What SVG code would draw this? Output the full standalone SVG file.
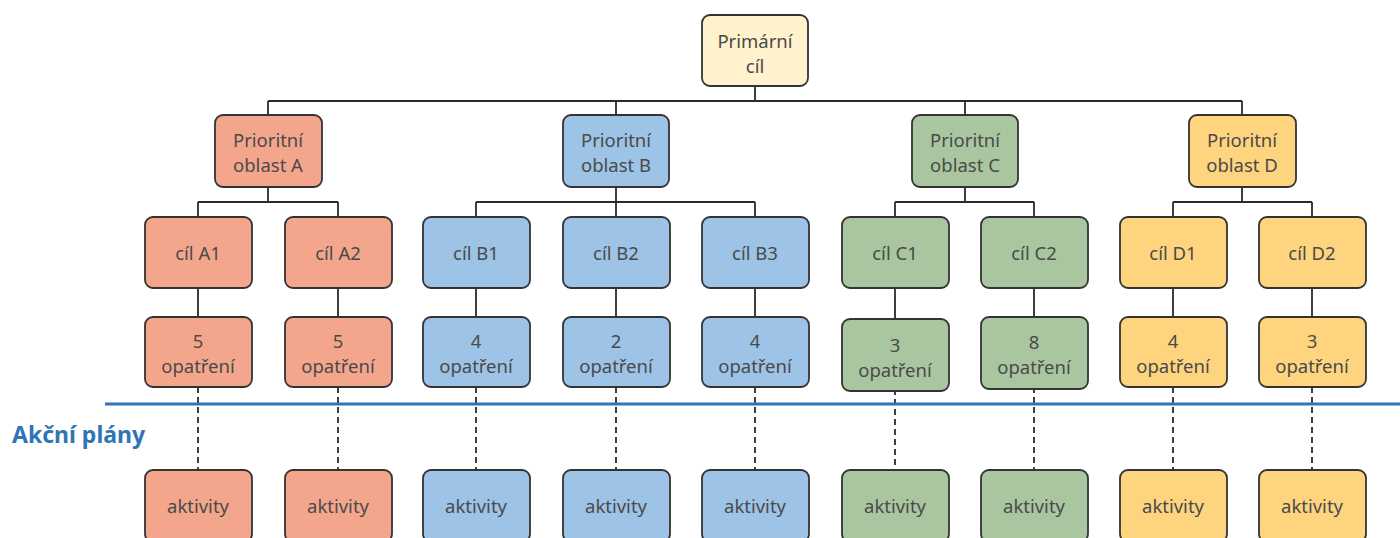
<svg xmlns="http://www.w3.org/2000/svg" width="1400" height="538" viewBox="0 0 1400 538">
<style>
.box{stroke:#333;stroke-width:1.8}
.p{fill:#FFF2CC}.a{fill:#F4A68C}.b{fill:#9DC3E6}.c{fill:#A9C6A0}.d{fill:#FFD47F}
text{font-family:"Noto Sans","Liberation Sans",sans-serif;font-size:18.5px;fill:#4a4a4a;text-anchor:middle}
.ln{stroke:#2b2b2b;stroke-width:1.8;fill:none}
.ds{stroke:#2b2b2b;stroke-width:1.8;fill:none;stroke-dasharray:6,4}
.lbl{font-weight:bold;font-size:23px;fill:#2E75B6;text-anchor:start}
</style>
<g id="connectors">
<path class="ln" d="M755 86V101M268 101H1242M268 101V115M616 101V115M965 101V115M1242 101V115"/>
<path class="ln" d="M268 187V202M198 202H338M198 202V217M338 202V217"/>
<path class="ln" d="M616 187V202M476 202H755M476 202V217M616 202V217M755 202V217"/>
<path class="ln" d="M965 187V202M895 202H1034M895 202V217M1034 202V217"/>
<path class="ln" d="M1242 187V202M1173 202H1312M1173 202V217M1312 202V217"/>
<path class="ln" d="M198 288V317M338 288V317M476 288V317M616 288V317M755 288V317M895 288V319M1034 288V317M1173 288V317M1312 288V317"/>
<path class="ds" d="M198 387V470M338 387V470M476 387V470M616 387V470M755 387V470M895 389V470M1034 387V470M1173 387V470M1312 387V470"/>
</g>
<line id="divider" x1="105" y1="404" x2="1400" y2="404" stroke="#2E75B6" stroke-width="3"/>
<text class="lbl" x="12" y="443">Akční plány</text>
<g id="primary"><rect class="box p" x="702" y="15" width="106" height="71" rx="8"/><text x="755" y="48">Primární</text><text x="755" y="73">cíl</text></g>
<g id="prio-a"><rect class="box a" x="215" y="115" width="107" height="72" rx="8"/><text x="268" y="147">Prioritní</text><text x="268" y="172">oblast A</text></g>
<g id="prio-b"><rect class="box b" x="563" y="115" width="106" height="72" rx="8"/><text x="616" y="147">Prioritní</text><text x="616" y="172">oblast B</text></g>
<g id="prio-c"><rect class="box c" x="912" y="115" width="106" height="72" rx="8"/><text x="965" y="147">Prioritní</text><text x="965" y="172">oblast C</text></g>
<g id="prio-d"><rect class="box d" x="1189" y="115" width="107" height="72" rx="8"/><text x="1242" y="147">Prioritní</text><text x="1242" y="172">oblast D</text></g>
<g id="cil-a1"><rect class="box a" x="145" y="217" width="107" height="71" rx="8"/><text x="198" y="260">cíl A1</text></g>
<g id="cil-a2"><rect class="box a" x="285" y="217" width="107" height="71" rx="8"/><text x="338" y="260">cíl A2</text></g>
<g id="cil-b1"><rect class="box b" x="423" y="217" width="107" height="71" rx="8"/><text x="476" y="260">cíl B1</text></g>
<g id="cil-b2"><rect class="box b" x="563" y="217" width="107" height="71" rx="8"/><text x="616" y="260">cíl B2</text></g>
<g id="cil-b3"><rect class="box b" x="702" y="217" width="107" height="71" rx="8"/><text x="755" y="260">cíl B3</text></g>
<g id="cil-c1"><rect class="box c" x="842" y="217" width="107" height="71" rx="8"/><text x="895" y="260">cíl C1</text></g>
<g id="cil-c2"><rect class="box c" x="981" y="217" width="107" height="71" rx="8"/><text x="1034" y="260">cíl C2</text></g>
<g id="cil-d1"><rect class="box d" x="1120" y="217" width="107" height="71" rx="8"/><text x="1173" y="260">cíl D1</text></g>
<g id="cil-d2"><rect class="box d" x="1259" y="217" width="107" height="71" rx="8"/><text x="1312" y="260">cíl D2</text></g>
<g id="op-a1"><rect class="box a" x="145" y="317" width="107" height="70" rx="8"/><text x="198" y="348">5</text><text x="198" y="373">opatření</text></g>
<g id="op-a2"><rect class="box a" x="285" y="317" width="107" height="70" rx="8"/><text x="338" y="348">5</text><text x="338" y="373">opatření</text></g>
<g id="op-b1"><rect class="box b" x="423" y="317" width="107" height="70" rx="8"/><text x="476" y="348">4</text><text x="476" y="373">opatření</text></g>
<g id="op-b2"><rect class="box b" x="563" y="317" width="107" height="70" rx="8"/><text x="616" y="348">2</text><text x="616" y="373">opatření</text></g>
<g id="op-b3"><rect class="box b" x="702" y="317" width="107" height="70" rx="8"/><text x="755" y="348">4</text><text x="755" y="373">opatření</text></g>
<g id="op-c1"><rect class="box c" x="842" y="319" width="107" height="72" rx="8"/><text x="895" y="352">3</text><text x="895" y="377">opatření</text></g>
<g id="op-c2"><rect class="box c" x="981" y="317" width="107" height="72" rx="8"/><text x="1034" y="349">8</text><text x="1034" y="374">opatření</text></g>
<g id="op-d1"><rect class="box d" x="1120" y="317" width="107" height="70" rx="8"/><text x="1173" y="348">4</text><text x="1173" y="373">opatření</text></g>
<g id="op-d2"><rect class="box d" x="1259" y="317" width="107" height="70" rx="8"/><text x="1312" y="348">3</text><text x="1312" y="373">opatření</text></g>
<g id="akt-a1"><rect class="box a" x="145" y="470" width="107" height="72" rx="8"/><text x="198" y="513">aktivity</text></g>
<g id="akt-a2"><rect class="box a" x="285" y="470" width="107" height="72" rx="8"/><text x="338" y="513">aktivity</text></g>
<g id="akt-b1"><rect class="box b" x="423" y="470" width="107" height="72" rx="8"/><text x="476" y="513">aktivity</text></g>
<g id="akt-b2"><rect class="box b" x="563" y="470" width="107" height="72" rx="8"/><text x="616" y="513">aktivity</text></g>
<g id="akt-b3"><rect class="box b" x="702" y="470" width="107" height="72" rx="8"/><text x="755" y="513">aktivity</text></g>
<g id="akt-c1"><rect class="box c" x="842" y="470" width="107" height="72" rx="8"/><text x="895" y="513">aktivity</text></g>
<g id="akt-c2"><rect class="box c" x="981" y="470" width="107" height="72" rx="8"/><text x="1034" y="513">aktivity</text></g>
<g id="akt-d1"><rect class="box d" x="1120" y="470" width="107" height="72" rx="8"/><text x="1173" y="513">aktivity</text></g>
<g id="akt-d2"><rect class="box d" x="1259" y="470" width="107" height="72" rx="8"/><text x="1312" y="513">aktivity</text></g>
</svg>
